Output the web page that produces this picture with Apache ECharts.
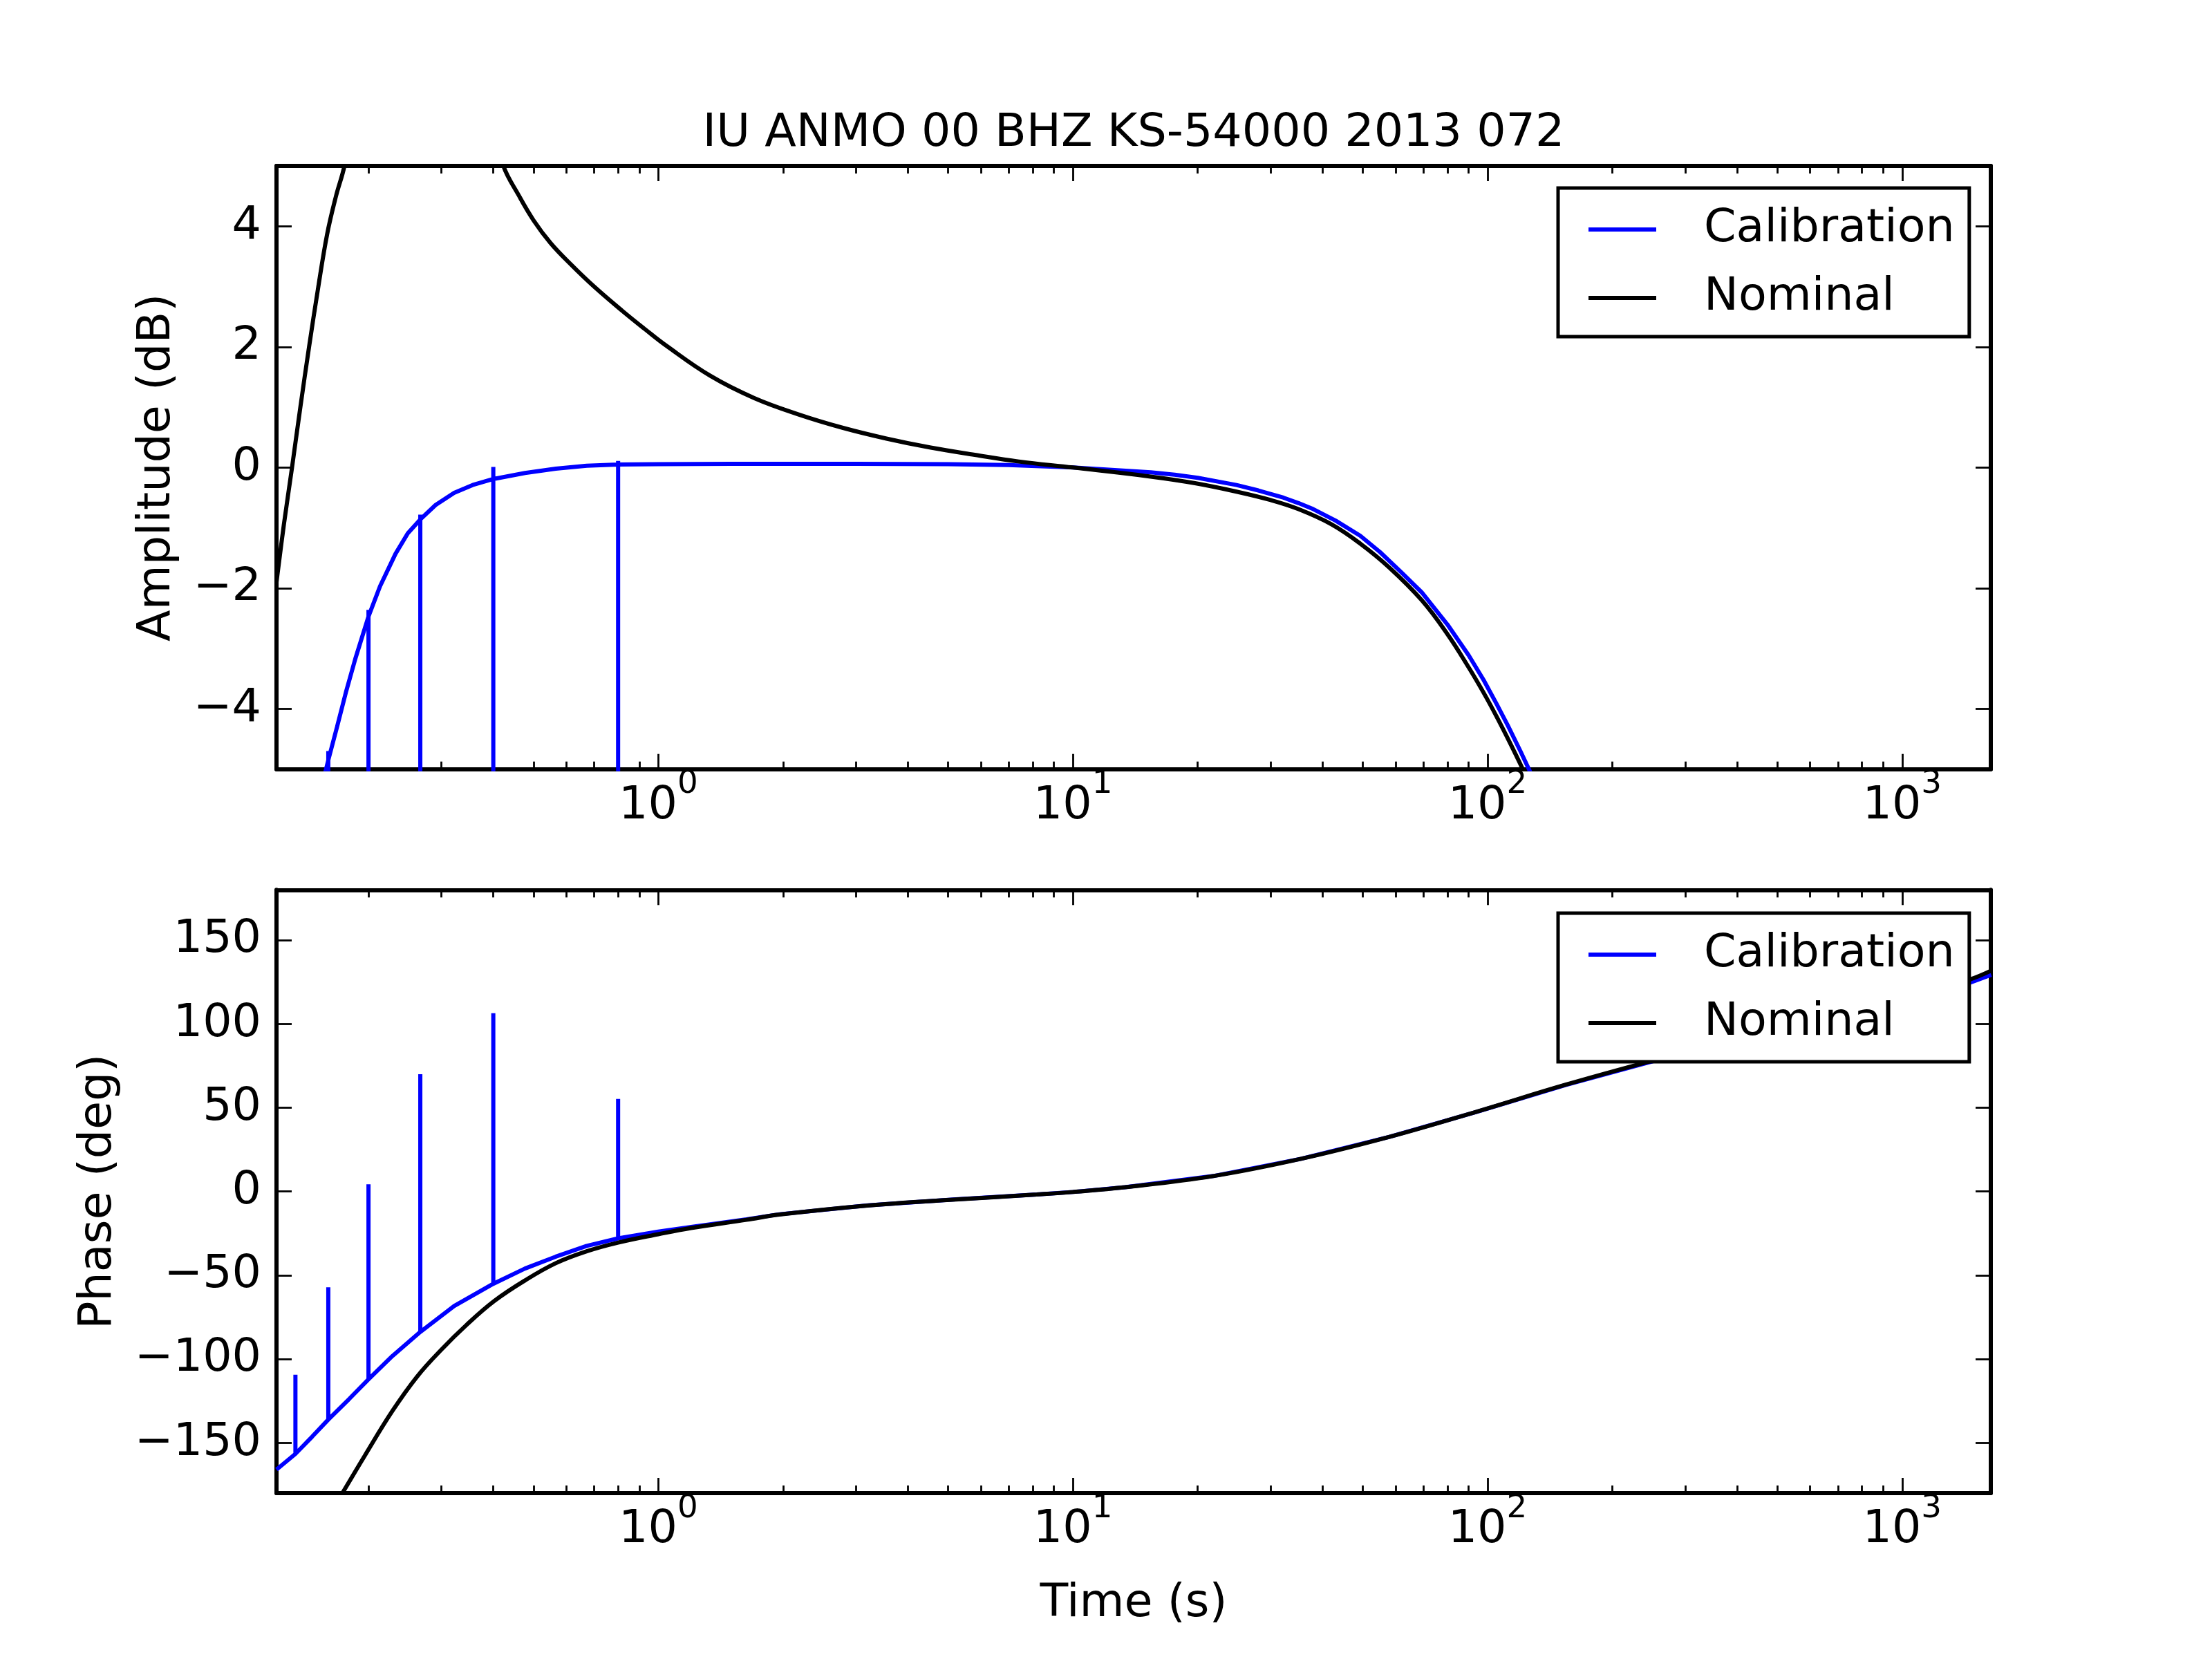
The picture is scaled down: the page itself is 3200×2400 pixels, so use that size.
<!DOCTYPE html>
<html>
<head>
<meta charset="utf-8">
<script src="https://cdn.jsdelivr.net/npm/echarts@6/dist/echarts.min.js"></script>
<style>
html, body { margin: 0; padding: 0; background: #fff; }
#chart { width: 3200px; height: 2400px; }
</style>
</head>
<body>
<div id="chart"></div>
<script>
// period axis (s)
var tMin = 0.12, tMax = 1636;

// calibration amplitude (dB) - spikes go straight down off the plot
var calAmpT  = [0.12, 0.14, 0.15, 0.158, 0.16, 0.16, 0.16, 0.16, 0.1678, 0.1767, 0.1859, 0.2, 0.2, 0.2, 0.2, 0.2132, 0.2324, 0.2488, 0.2667, 0.2667, 0.2667, 0.2667, 0.2904, 0.3218, 0.3565, 0.4, 0.4, 0.4, 0.4, 0.477, 0.566, 0.672, 0.8, 0.8, 0.8, 0.8, 1.0, 1.5, 2, 3, 5, 7, 10, 15.4, 17.6, 20, 24.8, 28, 32.2, 35, 38, 43, 49.3, 55, 62, 69.4, 80, 90, 97.8, 105, 112, 120, 126.4, 135, 150];
var calAmpDb = [-7.5, -6.3, -5.6, -5.0, -4.85, -4.7, -40, -4.85, -4.31, -3.71, -3.17, -2.47, -2.36, -40, -2.47, -1.97, -1.43, -1.09, -0.86, -0.78, -40, -0.86, -0.62, -0.42, -0.29, -0.19, 0.01, -40, -0.19, -0.09, -0.02, 0.03, 0.05, 0.11, -40, 0.05, 0.055, 0.06, 0.06, 0.06, 0.055, 0.04, 0.0, -0.08, -0.12, -0.17, -0.29, -0.38, -0.5, -0.59, -0.69, -0.88, -1.13, -1.4, -1.74, -2.07, -2.6, -3.11, -3.52, -3.91, -4.28, -4.7, -5.03, -5.6, -6.5];

// nominal amplitude (dB)
var nomAmpT  = [0.12, 0.125, 0.1308, 0.137, 0.1438, 0.151, 0.159, 0.167, 0.175, 0.19, 0.22, 0.26, 0.3, 0.35, 0.39, 0.423, 0.46, 0.5, 0.55, 0.617, 0.7, 0.818, 0.93, 1.045, 1.335, 1.705, 2.18, 2.78, 3.55, 4.54, 5.8, 7.4, 10, 15.4, 19.7, 24.8, 30, 35, 42, 49.3, 58, 69.4, 80, 90, 97.8, 105, 113, 121, 135];
var nomAmpDb = [-1.9, -0.95, 0.0, 1.0, 2.0, 2.95, 3.87, 4.5, 5.0, 6.3, 8.0, 9.0, 8.5, 7.2, 5.9, 5.0, 4.52, 4.1, 3.72, 3.36, 3.0, 2.6, 2.29, 2.02, 1.52, 1.15, 0.88, 0.66, 0.48, 0.33, 0.21, 0.1, 0.0, -0.15, -0.26, -0.4, -0.54, -0.69, -0.94, -1.26, -1.66, -2.2, -2.76, -3.31, -3.73, -4.12, -4.55, -4.97, -5.68];

// calibration phase (deg) - spikes go up from the curve
var calPhT   = [0.12, 0.1333, 0.1333, 0.1333, 0.1463, 0.16, 0.16, 0.16, 0.1797, 0.2, 0.2, 0.2, 0.2284, 0.2667, 0.2667, 0.2667, 0.3218, 0.4, 0.4, 0.4, 0.477, 0.566, 0.672, 0.8, 0.8, 0.8, 1.0, 1.2, 1.632, 1.96, 3.2, 5.22, 8.18, 10, 13.35, 21.8, 35.5, 58, 94.6, 154.3, 252, 400, 600, 800, 1000, 1200, 1445, 1640];
var calPhDeg = [-166, -156.6, -109.4, -156.6, -146.3, -136.1, -57.2, -136.1, -123.8, -112.1, 4.3, -112.1, -98.2, -83.8, 70, -83.8, -68.4, -55.1, 106.4, -55.1, -46, -38.9, -32.5, -28, 55.2, -28, -24, -21.2, -16.6, -13.6, -8.3, -4.7, -1.8, -0.3, 2.5, 9.2, 19.5, 32.6, 47.7, 63.5, 77.9, 90.5, 101, 108.5, 114.5, 119.5, 124.3, 129.3];

// nominal phase (deg)
var nomPhT   = [0.15, 0.173, 0.196, 0.2284, 0.2619, 0.3006, 0.3445, 0.402, 0.477, 0.566, 0.672, 0.8, 1.0, 1.2, 1.632, 1.96, 3.2, 5.22, 8.18, 10, 13.35, 21.8, 35.5, 58, 94.6, 154.3, 252, 400, 600, 800, 1000, 1200, 1445, 1640];
var nomPhDeg = [-205, -180, -157.6, -131, -110.5, -94.1, -79.7, -65.4, -53.1, -42.8, -35.7, -30.5, -25.5, -21.8, -16.9, -13.8, -8.4, -4.8, -1.8, -0.3, 2.5, 9.2, 19.5, 32.6, 47.8, 63.7, 78.3, 91.2, 101.8, 109.2, 115.5, 120.8, 126.2, 131.8];

var seriesNames = ['Calibration', 'Nominal'];
var titleText = 'IU ANMO 00 BHZ KS-54000 2013 072';

var FONT = 'DejaVu Sans';
var FS = 66.7;
var LW = 6;

function pairs(t, v) {
    var out = [];
    for (var i = 0; i < t.length; i++) out.push([t[i], v[i]]);
    return out;
}

// 10^n labels only on the decades
function decadeLabel(v) {
    var e = Math.round(Math.log(v) / Math.LN10);
    if (Math.abs(v - Math.pow(10, e)) > 1e-6 * v) return '';
    return '{b|10}{s|' + e + '}';
}

function minusLabel(v) {
    return v < 0 ? '\u2212' + (-v) : '' + v;
}

function xAxisFor(grid, pos) {
    return {
        type: 'log', logBase: 10, gridIndex: grid, position: pos,
        min: tMin, max: tMax,
        axisLine: { show: true, onZero: false, lineStyle: { color: '#000', width: LW } },
        axisTick: { show: true, inside: true, length: 22, lineStyle: { color: '#000', width: 2.8 } },
        minorTick: { show: true, splitNumber: 9, length: 11, lineStyle: { color: '#000', width: 2.8 } },
        splitLine: { show: false },
        minorSplitLine: { show: false },
        axisLabel: {
            show: pos === 'bottom',
            formatter: decadeLabel,
            showMinLabel: false, showMaxLabel: false,
            margin: 20,
            color: '#000',
            rich: {
                b: { fontFamily: FONT, fontSize: FS, lineHeight: 67, verticalAlign: 'bottom', color: '#000' },
                s: { fontFamily: FONT, fontSize: 46.7, lineHeight: 47, verticalAlign: 'bottom', padding: [0, 0, 41, 0], color: '#000' }
            }
        },
        name: grid === 1 && pos === 'bottom' ? 'Time (s)' : '',
        nameLocation: 'middle',
        nameGap: 127,
        nameTextStyle: { fontFamily: FONT, fontSize: FS, color: '#000' }
    };
}

function yAxisFor(grid, pos, lo, hi, split, name, gap) {
    return {
        type: 'value', gridIndex: grid, position: pos,
        min: lo, max: hi, splitNumber: split,
        axisLine: { show: true, onZero: false, lineStyle: { color: '#000', width: LW } },
        axisTick: { show: true, inside: true, length: 22, lineStyle: { color: '#000', width: 2.8 } },
        splitLine: { show: false },
        axisLabel: {
            show: pos === 'left',
            formatter: minusLabel,
            showMinLabel: false, showMaxLabel: false,
            margin: 22,
            fontFamily: FONT, fontSize: FS, color: '#000'
        },
        name: pos === 'left' ? name : '',
        nameLocation: 'middle',
        nameGap: gap,
        nameTextStyle: { fontFamily: FONT, fontSize: FS, color: '#000' }
    };
}

function legendAt(top) {
    return {
        orient: 'vertical', left: 2254, top: top,
        padding: [20, 21, 16, 44],
        itemGap: 19, itemWidth: 98, itemHeight: LW,
        icon: 'rect', selectedMode: false,
        backgroundColor: '#fff', borderColor: '#000', borderWidth: 5, borderRadius: 0,
        textStyle: { fontFamily: FONT, fontSize: FS, color: '#000', lineHeight: 80, padding: [0, 0, 0, 64] },
        data: seriesNames
    };
}

function line(name, color, xi, yi, data, smooth) {
    return {
        name: name, type: 'line', xAxisIndex: xi, yAxisIndex: yi,
        data: data, color: color, smooth: smooth,
        showSymbol: false, symbol: 'none', clip: true,
        lineStyle: { color: color, width: LW },
        emphasis: { disabled: true }
    };
}

var chart = echarts.init(document.getElementById('chart'), null, { renderer: 'canvas', width: 3200, height: 2400 });

chart.setOption({
    animation: false,
    backgroundColor: '#fff',
    title: {
        text: titleText, left: 1640, top: 160, textAlign: 'center', padding: 0,
        textStyle: { fontFamily: FONT, fontSize: FS, fontWeight: 'normal', color: '#000' }
    },
    legend: [legendAt(272), legendAt(1321)],
    grid: [
        { left: 400, top: 240, width: 2480, height: 872.7, containLabel: false },
        { left: 400, top: 1287.3, width: 2480, height: 872.7, containLabel: false }
    ],
    xAxis: [
        xAxisFor(0, 'bottom'),
        xAxisFor(0, 'top'),
        xAxisFor(1, 'bottom'),
        xAxisFor(1, 'top')
    ],
    yAxis: [
        yAxisFor(0, 'left', -5, 5, 5, 'Amplitude (dB)', 139),
        yAxisFor(0, 'right', -5, 5, 5, '', 0),
        yAxisFor(1, 'left', -180, 180, 7, 'Phase (deg)', 224),
        yAxisFor(1, 'right', -180, 180, 7, '', 0)
    ],
    series: [
        line(seriesNames[0], '#0000ff', 0, 0, pairs(calAmpT, calAmpDb), false),
        line(seriesNames[1], '#000000', 0, 0, pairs(nomAmpT, nomAmpDb), 0.4),
        line(seriesNames[0], '#0000ff', 2, 2, pairs(calPhT, calPhDeg), false),
        line(seriesNames[1], '#000000', 2, 2, pairs(nomPhT, nomPhDeg), 0.4)
    ]
});
</script>
</body>
</html>
